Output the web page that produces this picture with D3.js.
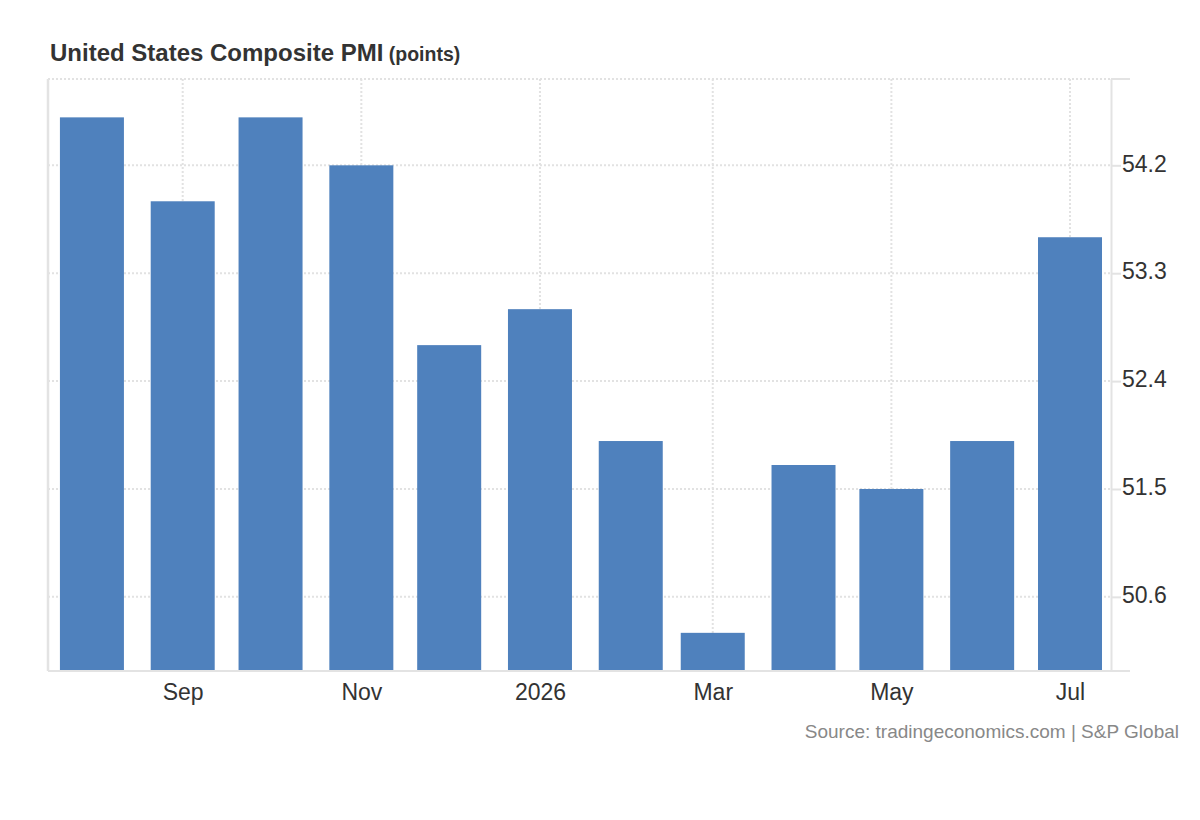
<!DOCTYPE html>
<html lang="en">
<head>
    <meta charset="UTF-8">
    <title>United States Composite PMI</title>
    <script src="https://cdn.jsdelivr.net/npm/d3@7"></script>
    <style>
        body { margin: 0; background: #fff; }
        svg text { font-family: "Liberation Sans", Arial, sans-serif; }
        .title { fill: #333; font-weight: bold; }
        .tick text { fill: #333; font-size: 23px; }
        .source { fill: #888; font-size: 19px; }
    </style>
</head>
<body>
    <svg id="chart" width="1200" height="820"></svg>
    <script>
        // data
        const months = ["2025-08-01", "2025-09-01", "2025-10-01", "2025-11-01", "2025-12-01", "2026-01-01",
                        "2026-02-01", "2026-03-01", "2026-04-01", "2026-05-01", "2026-06-01", "2026-07-01"]
        const pmi = [54.6, 53.9, 54.6, 54.2, 52.7, 53.0, 51.9, 50.3, 51.7, 51.5, 51.9, 53.6]
        const xTickDates = ["2025-09-01", "2025-11-01", "2026-01-01", "2026-03-01", "2026-05-01", "2026-07-01"]
        const xTickLabels = ["Sep", "Nov", "2026", "Mar", "May", "Jul"]
        const yTicks = [50.6, 51.5, 52.4, 53.3, 54.2]

        const parse = d3.utcParse("%Y-%m-%d")
        const data = months.map((m, i) => ({date: parse(m), value: pmi[i]}))
        const tickDates = xTickDates.map(parse)

        const svg = d3.select("#chart")
        const plotL = 48, plotR = 1111, plotT = 79, plotB = 670

        const x = d3.scaleUtc()
            .domain([parse("2025-07-17"), parse("2026-07-15")])
            .range([plotL, plotR])
        const y = d3.scaleLinear().domain([49.99, 54.92]).range([plotB, plotT])
        const barW = 64

        // title
        const title = svg.append("text").attr("class", "title").attr("x", 50).attr("y", 61)
        title.append("tspan").attr("font-size", "24px").text("United States Composite PMI")
        title.append("tspan").attr("font-size", "19.5px").text(" (points)")

        // dotted grid
        const grid = svg.append("g").attr("stroke", "#e2e2e2").attr("stroke-width", 2).attr("stroke-dasharray", "2,2")
        grid.selectAll(".hg").data(yTicks.concat([y.domain()[1]])).enter().append("line")
            .attr("x1", plotL).attr("x2", plotR)
            .attr("y1", d => y(d)).attr("y2", d => y(d))
        grid.selectAll(".vg").data(tickDates).enter().append("line")
            .attr("x1", d => x(d)).attr("x2", d => x(d))
            .attr("y1", plotT).attr("y2", plotB)

        // bars
        svg.append("g").selectAll("rect").data(data).enter().append("rect")
            .attr("x", d => x(d.date) - barW / 2)
            .attr("width", barW)
            .attr("y", d => y(d.value))
            .attr("height", d => plotB - y(d.value))
            .attr("fill", "#4f81bd")

        // axis frame
        const frame = svg.append("g").attr("stroke", "#e3e3e3").attr("stroke-width", 2)
        frame.append("line").attr("x1", plotL).attr("x2", plotL).attr("y1", plotT).attr("y2", plotB + 1).attr("stroke-width", 2.5)
        frame.append("line").attr("x1", plotL).attr("x2", plotR + 19).attr("y1", plotB + 1).attr("y2", plotB + 1)
        frame.append("line").attr("x1", plotR).attr("x2", plotR + 19).attr("y1", plotT).attr("y2", plotT)

        // right value axis
        const yAxis = svg.append("g").attr("transform", `translate(${plotR},0)`)
            .call(d3.axisRight(y).tickValues(yTicks).tickSize(10).tickPadding(1).tickFormat(d3.format(".1f")))
        yAxis.select(".domain").attr("stroke", "#e3e3e3").attr("stroke-width", 2)
            .attr("d", `M0.5,${plotT}V${plotB}`)
        yAxis.selectAll(".tick line").attr("stroke", "#e3e3e3").attr("stroke-width", 2)
        yAxis.selectAll(".tick text").attr("dy", "0.25em")

        // bottom month axis
        const xAxis = svg.append("g").attr("transform", `translate(0,${plotB})`)
            .call(d3.axisBottom(x).tickValues(tickDates).tickSize(0).tickPadding(14)
                .tickFormat((d, i) => xTickLabels[i]))
        xAxis.select(".domain").remove()

        // source
        svg.append("text").attr("class", "source").attr("x", 1179).attr("y", 738)
            .attr("text-anchor", "end").text("Source: tradingeconomics.com | S&P Global")
    </script>
</body>
</html>
